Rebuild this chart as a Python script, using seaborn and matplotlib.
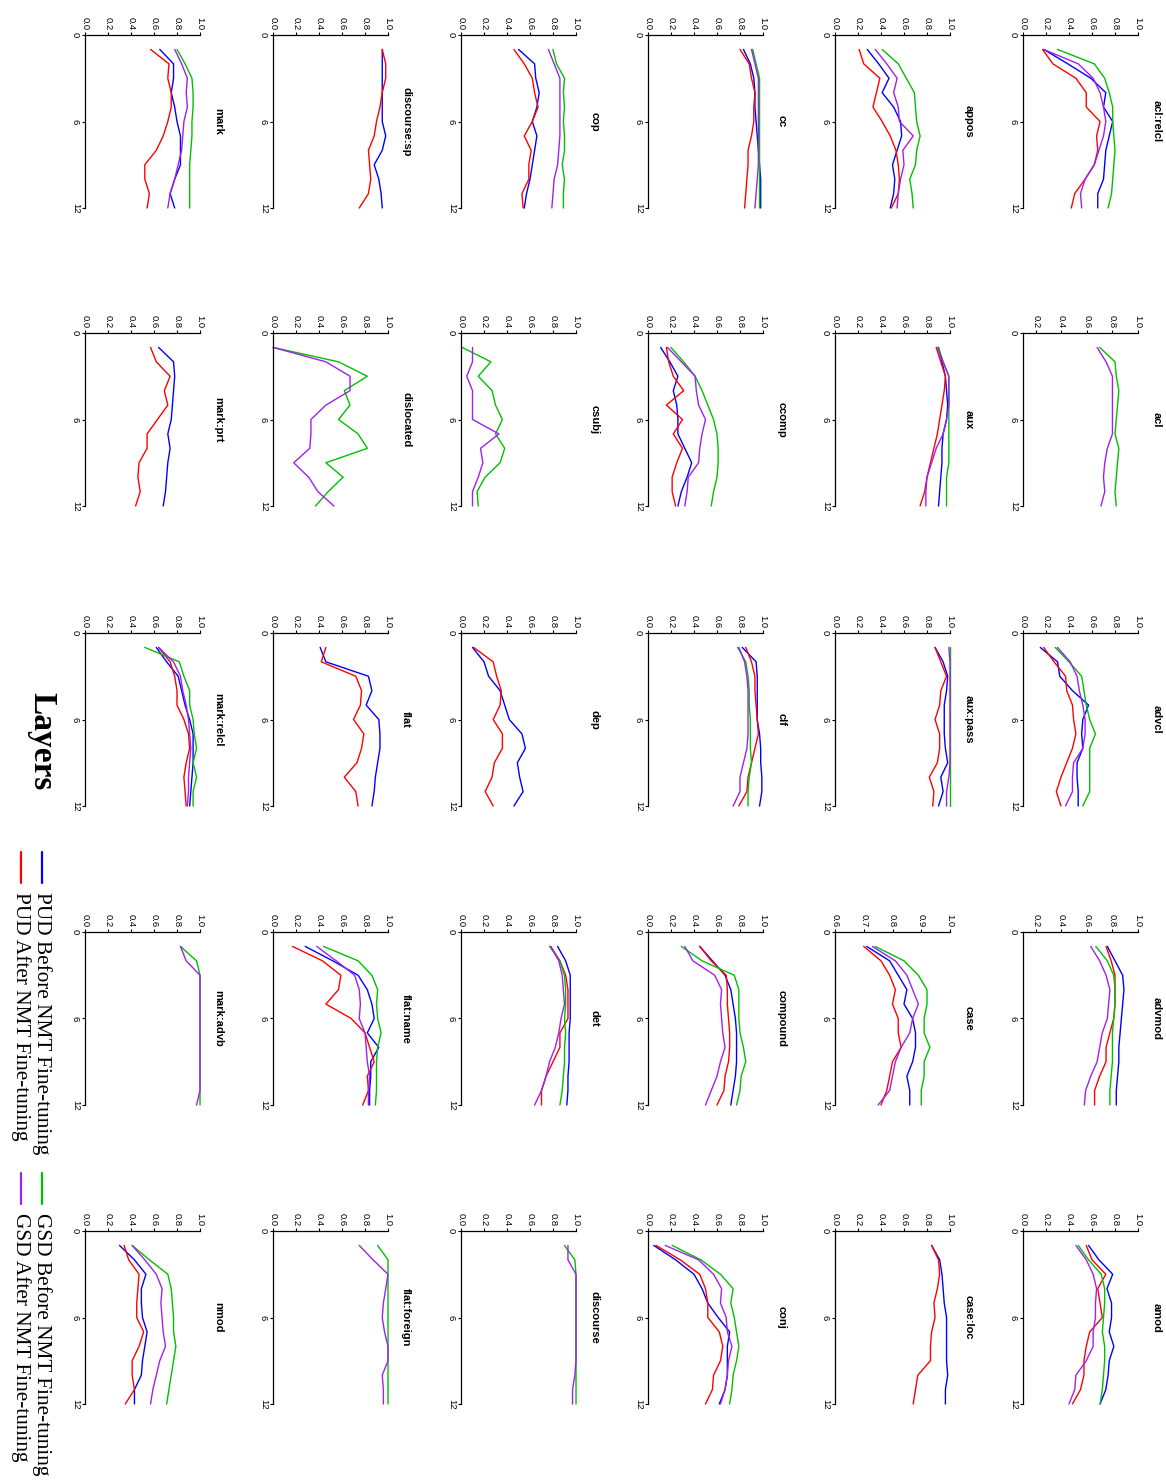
import matplotlib
matplotlib.use("Agg")
import matplotlib.pyplot as plt
from matplotlib.lines import Line2D
import pandas as pd
import seaborn as sns

# ---------------- data ----------------
LAYERS = [1, 2, 3, 4, 5, 6, 7, 8, 9, 10, 11, 12]
SERIES = ["PUD Before NMT Fine-tuning", "PUD After NMT Fine-tuning",
          "GSD Before NMT Fine-tuning", "GSD After NMT Fine-tuning"]
COLORS = ["#0000FF", "#FF0000", "#00C000", "#A020F0"]

PANEL_TITLES = [
    "acl:relcl", "acl", "advcl", "advmod", "amod",
    "appos", "aux", "aux:pass", "case", "case:loc",
    "cc", "ccomp", "clf", "compound", "conj",
    "cop", "csubj", "dep", "det", "discourse",
    "discourse:sp", "dislocated", "flat", "flat:name", "flat:foreign",
    "mark", "mark:prt", "mark:relcl", "mark:advb", "nmod",
]
VALUE_FLOOR = {"acl": 0.1, "advmod": 0.1, "case": 0.6}

acl_relcl_pud_before = [0.18, 0.39, 0.59, 0.72, 0.70, 0.78, 0.75, 0.72, 0.71, 0.70, 0.65, 0.65]
acl_relcl_pud_after = [0.17, 0.26, 0.46, 0.55, 0.55, 0.67, 0.64, 0.65, 0.62, 0.54, 0.45, 0.42]
acl_relcl_gsd_before = [0.30, 0.62, 0.71, 0.75, 0.78, 0.78, 0.79, 0.80, 0.79, 0.78, 0.77, 0.74]
acl_relcl_gsd_after = [0.18, 0.48, 0.61, 0.67, 0.70, 0.72, 0.70, 0.66, 0.62, 0.54, 0.50, 0.51]

acl_gsd_before = [0.70, 0.82, 0.83, 0.85, 0.84, 0.83, 0.82, 0.85, 0.84, 0.83, 0.82, 0.83]
acl_gsd_after = [0.68, 0.75, 0.80, 0.80, 0.80, 0.80, 0.80, 0.76, 0.74, 0.73, 0.74, 0.71]

advcl_pud_before = [0.15, 0.30, 0.32, 0.43, 0.57, 0.52, 0.51, 0.52, 0.47, 0.47, 0.48, 0.48]
advcl_pud_after = [0.18, 0.27, 0.37, 0.38, 0.43, 0.44, 0.46, 0.43, 0.38, 0.33, 0.29, 0.33]
advcl_gsd_before = [0.28, 0.40, 0.51, 0.53, 0.55, 0.58, 0.63, 0.58, 0.58, 0.58, 0.58, 0.52]
advcl_gsd_after = [0.30, 0.41, 0.47, 0.49, 0.52, 0.54, 0.54, 0.52, 0.44, 0.43, 0.43, 0.37]

advmod_pud_before = [0.76, 0.82, 0.88, 0.89, 0.88, 0.87, 0.86, 0.85, 0.85, 0.84, 0.83, 0.83]
advmod_pud_after = [0.75, 0.79, 0.82, 0.82, 0.82, 0.81, 0.78, 0.75, 0.75, 0.70, 0.66, 0.66]
advmod_gsd_before = [0.67, 0.76, 0.81, 0.82, 0.82, 0.81, 0.80, 0.80, 0.80, 0.79, 0.78, 0.78]
advmod_gsd_after = [0.63, 0.70, 0.75, 0.78, 0.77, 0.76, 0.72, 0.70, 0.68, 0.63, 0.59, 0.58]

amod_pud_before = [0.57, 0.66, 0.78, 0.73, 0.77, 0.77, 0.75, 0.79, 0.75, 0.74, 0.72, 0.67]
amod_pud_after = [0.55, 0.60, 0.72, 0.65, 0.67, 0.69, 0.58, 0.55, 0.53, 0.53, 0.50, 0.43]
amod_gsd_before = [0.48, 0.57, 0.68, 0.71, 0.71, 0.70, 0.69, 0.71, 0.71, 0.70, 0.69, 0.67]
amod_gsd_after = [0.46, 0.55, 0.61, 0.64, 0.63, 0.63, 0.61, 0.61, 0.55, 0.46, 0.45, 0.40]

appos_pud_before = [0.28, 0.38, 0.47, 0.41, 0.51, 0.57, 0.58, 0.54, 0.50, 0.52, 0.51, 0.48]
appos_pud_after = [0.21, 0.25, 0.39, 0.36, 0.33, 0.41, 0.48, 0.53, 0.55, 0.56, 0.55, 0.49]
appos_gsd_before = [0.41, 0.55, 0.62, 0.69, 0.70, 0.71, 0.74, 0.71, 0.70, 0.65, 0.67, 0.68]
appos_gsd_after = [0.35, 0.45, 0.54, 0.51, 0.55, 0.56, 0.68, 0.59, 0.60, 0.57, 0.55, 0.54]

aux_pud_before = [0.90, 0.93, 0.96, 0.97, 0.98, 0.97, 0.94, 0.93, 0.93, 0.92, 0.91, 0.90]
aux_pud_after = [0.88, 0.92, 0.96, 0.95, 0.93, 0.91, 0.89, 0.86, 0.83, 0.80, 0.78, 0.74]
aux_gsd_before = [0.90, 0.94, 0.99, 0.99, 0.99, 0.99, 0.99, 0.99, 0.99, 0.97, 0.97, 0.97]
aux_gsd_after = [0.89, 0.94, 0.99, 0.99, 0.99, 0.97, 0.94, 0.88, 0.84, 0.80, 0.79, 0.79]

aux_pass_pud_before = [0.87, 0.94, 0.98, 0.97, 0.95, 0.95, 0.95, 0.96, 0.98, 0.92, 0.94, 0.90]
aux_pass_pud_after = [0.87, 0.92, 0.97, 0.92, 0.91, 0.87, 0.91, 0.91, 0.89, 0.82, 0.86, 0.85]
aux_pass_gsd_before = [1.00, 1.00, 1.00, 1.00, 1.00, 1.00, 1.00, 1.00, 1.00, 1.00, 1.00, 1.00]
aux_pass_gsd_after = [0.99, 1.00, 1.00, 1.00, 1.00, 1.00, 1.00, 1.00, 1.00, 0.99, 0.97, 0.97]

case_pud_before = [0.71, 0.79, 0.82, 0.85, 0.84, 0.87, 0.88, 0.88, 0.87, 0.85, 0.86, 0.86]
case_pud_after = [0.70, 0.76, 0.79, 0.81, 0.80, 0.82, 0.82, 0.83, 0.80, 0.79, 0.78, 0.76]
case_gsd_before = [0.74, 0.84, 0.89, 0.92, 0.92, 0.91, 0.91, 0.93, 0.91, 0.91, 0.90, 0.90]
case_gsd_after = [0.73, 0.81, 0.85, 0.87, 0.89, 0.87, 0.86, 0.83, 0.81, 0.80, 0.79, 0.75]

case_loc_pud_before = [0.84, 0.91, 0.93, 0.94, 0.95, 0.97, 0.97, 0.97, 0.97, 0.98, 0.96, 0.96]
case_loc_pud_after = [0.84, 0.90, 0.91, 0.89, 0.86, 0.87, 0.84, 0.83, 0.83, 0.72, 0.70, 0.68]

cc_pud_before = [0.83, 0.89, 0.92, 0.93, 0.93, 0.94, 0.95, 0.96, 0.97, 0.98, 0.98, 0.98]
cc_pud_after = [0.80, 0.88, 0.90, 0.93, 0.92, 0.92, 0.90, 0.87, 0.87, 0.86, 0.85, 0.84]
cc_gsd_before = [0.91, 0.94, 0.97, 0.97, 0.97, 0.97, 0.97, 0.97, 0.97, 0.97, 0.97, 0.97]
cc_gsd_after = [0.90, 0.93, 0.96, 0.96, 0.96, 0.96, 0.96, 0.96, 0.96, 0.95, 0.94, 0.93]

ccomp_pud_before = [0.11, 0.19, 0.26, 0.22, 0.25, 0.26, 0.26, 0.32, 0.38, 0.34, 0.29, 0.26]
ccomp_pud_after = [0.16, 0.18, 0.22, 0.31, 0.16, 0.30, 0.22, 0.30, 0.25, 0.21, 0.21, 0.24]
ccomp_gsd_before = [0.20, 0.31, 0.41, 0.47, 0.52, 0.57, 0.60, 0.61, 0.61, 0.60, 0.57, 0.55]
ccomp_gsd_after = [0.17, 0.29, 0.41, 0.42, 0.44, 0.50, 0.47, 0.45, 0.44, 0.35, 0.34, 0.32]

clf_pud_before = [0.82, 0.94, 0.95, 0.95, 0.95, 0.95, 0.97, 0.98, 0.98, 0.99, 0.99, 0.97]
clf_pud_after = [0.85, 0.90, 0.93, 0.93, 0.94, 0.95, 0.96, 0.93, 0.90, 0.87, 0.86, 0.79]
clf_gsd_before = [0.78, 0.85, 0.87, 0.88, 0.88, 0.89, 0.89, 0.89, 0.90, 0.88, 0.87, 0.87]
clf_gsd_after = [0.79, 0.84, 0.86, 0.87, 0.87, 0.87, 0.87, 0.86, 0.83, 0.80, 0.80, 0.74]

compound_pud_before = [0.45, 0.56, 0.67, 0.72, 0.74, 0.76, 0.77, 0.77, 0.77, 0.76, 0.74, 0.72]
compound_pud_after = [0.45, 0.55, 0.68, 0.69, 0.69, 0.70, 0.71, 0.71, 0.70, 0.67, 0.66, 0.60]
compound_gsd_before = [0.29, 0.47, 0.75, 0.79, 0.79, 0.79, 0.80, 0.83, 0.85, 0.81, 0.80, 0.77]
compound_gsd_after = [0.32, 0.39, 0.58, 0.64, 0.63, 0.64, 0.65, 0.67, 0.63, 0.60, 0.55, 0.50]

conj_pud_before = [0.05, 0.24, 0.40, 0.47, 0.52, 0.61, 0.71, 0.69, 0.69, 0.69, 0.67, 0.62]
conj_pud_after = [0.07, 0.28, 0.45, 0.50, 0.52, 0.52, 0.62, 0.65, 0.63, 0.57, 0.56, 0.50]
conj_gsd_before = [0.21, 0.46, 0.63, 0.74, 0.72, 0.75, 0.77, 0.79, 0.77, 0.74, 0.73, 0.71]
conj_gsd_after = [0.15, 0.44, 0.57, 0.64, 0.63, 0.68, 0.69, 0.73, 0.70, 0.69, 0.67, 0.63]

cop_pud_before = [0.50, 0.64, 0.65, 0.68, 0.66, 0.62, 0.66, 0.64, 0.62, 0.60, 0.57, 0.55]
cop_pud_after = [0.46, 0.55, 0.62, 0.64, 0.67, 0.62, 0.55, 0.61, 0.59, 0.59, 0.53, 0.54]
cop_gsd_before = [0.80, 0.83, 0.90, 0.89, 0.90, 0.89, 0.90, 0.90, 0.88, 0.90, 0.89, 0.89]
cop_gsd_after = [0.76, 0.81, 0.86, 0.86, 0.86, 0.86, 0.86, 0.85, 0.84, 0.81, 0.80, 0.79]

csubj_gsd_before = [0.01, 0.26, 0.15, 0.27, 0.30, 0.36, 0.30, 0.38, 0.34, 0.21, 0.14, 0.15]
csubj_gsd_after = [0.10, 0.10, 0.05, 0.10, 0.10, 0.10, 0.33, 0.17, 0.19, 0.15, 0.10, 0.10]

dep_pud_before = [0.10, 0.20, 0.24, 0.34, 0.38, 0.42, 0.53, 0.56, 0.49, 0.51, 0.54, 0.46]
dep_pud_after = [0.11, 0.28, 0.31, 0.35, 0.34, 0.28, 0.36, 0.36, 0.29, 0.27, 0.21, 0.28]

det_pud_before = [0.84, 0.91, 0.95, 0.95, 0.95, 0.95, 0.94, 0.94, 0.94, 0.93, 0.93, 0.92]
det_pud_after = [0.78, 0.86, 0.91, 0.93, 0.93, 0.93, 0.86, 0.86, 0.80, 0.74, 0.70, 0.70]
det_gsd_before = [0.77, 0.86, 0.90, 0.91, 0.91, 0.90, 0.91, 0.90, 0.90, 0.89, 0.88, 0.86]
det_gsd_after = [0.78, 0.85, 0.88, 0.89, 0.90, 0.87, 0.85, 0.82, 0.77, 0.74, 0.70, 0.64]

discourse_gsd_before = [0.90, 0.99, 1.00, 1.00, 1.00, 1.00, 1.00, 1.00, 1.00, 1.00, 1.00, 1.00]
discourse_gsd_after = [0.93, 0.93, 1.00, 1.00, 1.00, 1.00, 1.00, 1.00, 1.00, 0.99, 0.97, 0.97]

discourse_sp_pud_before = [0.95, 0.95, 0.95, 0.95, 0.95, 0.95, 0.98, 0.95, 0.88, 0.92, 0.94, 0.95]
discourse_sp_pud_after = [0.95, 0.98, 0.98, 0.95, 0.93, 0.90, 0.88, 0.83, 0.84, 0.85, 0.83, 0.75]

dislocated_gsd_before = [0.00, 0.57, 0.82, 0.62, 0.67, 0.57, 0.74, 0.82, 0.46, 0.61, 0.48, 0.37]
dislocated_gsd_after = [0.00, 0.46, 0.67, 0.67, 0.46, 0.33, 0.33, 0.32, 0.18, 0.31, 0.39, 0.53]

flat_pud_before = [0.41, 0.46, 0.83, 0.86, 0.81, 0.92, 0.93, 0.93, 0.91, 0.89, 0.88, 0.86]
flat_pud_after = [0.46, 0.42, 0.72, 0.77, 0.76, 0.70, 0.79, 0.77, 0.73, 0.62, 0.72, 0.74]

flat_name_pud_before = [0.28, 0.52, 0.74, 0.82, 0.86, 0.88, 0.82, 0.92, 0.85, 0.85, 0.84, 0.84]
flat_name_pud_after = [0.17, 0.43, 0.59, 0.57, 0.46, 0.68, 0.80, 0.84, 0.88, 0.82, 0.83, 0.78]
flat_name_gsd_before = [0.44, 0.74, 0.86, 0.91, 0.90, 0.91, 0.94, 0.91, 0.90, 0.90, 0.90, 0.89]
flat_name_gsd_after = [0.38, 0.55, 0.71, 0.75, 0.76, 0.75, 0.80, 0.81, 0.82, 0.84, 0.83, 0.83]

flat_foreign_gsd_before = [0.91, 1.00, 1.00, 1.00, 1.00, 1.00, 1.00, 1.00, 1.00, 1.00, 1.00, 1.00]
flat_foreign_gsd_after = [0.75, 0.87, 1.00, 0.98, 0.96, 0.95, 0.97, 1.00, 1.00, 0.95, 0.96, 0.96]

mark_pud_before = [0.65, 0.77, 0.77, 0.75, 0.78, 0.80, 0.83, 0.83, 0.83, 0.78, 0.74, 0.78]
mark_pud_after = [0.57, 0.73, 0.72, 0.75, 0.75, 0.72, 0.68, 0.62, 0.52, 0.52, 0.56, 0.54]
mark_gsd_before = [0.80, 0.87, 0.93, 0.94, 0.94, 0.93, 0.93, 0.92, 0.91, 0.91, 0.91, 0.91]
mark_gsd_after = [0.78, 0.84, 0.89, 0.88, 0.89, 0.86, 0.85, 0.84, 0.81, 0.78, 0.74, 0.72]

mark_prt_pud_before = [0.64, 0.77, 0.78, 0.77, 0.76, 0.75, 0.72, 0.74, 0.72, 0.71, 0.70, 0.68]
mark_prt_pud_after = [0.57, 0.62, 0.74, 0.69, 0.72, 0.63, 0.54, 0.54, 0.47, 0.46, 0.48, 0.44]

mark_relcl_pud_before = [0.62, 0.71, 0.81, 0.84, 0.87, 0.91, 0.94, 0.94, 0.94, 0.93, 0.92, 0.91]
mark_relcl_pud_after = [0.64, 0.74, 0.78, 0.80, 0.80, 0.86, 0.90, 0.91, 0.88, 0.86, 0.87, 0.88]
mark_relcl_gsd_before = [0.52, 0.82, 0.86, 0.91, 0.91, 0.94, 0.95, 0.97, 0.94, 0.97, 0.94, 0.94]
mark_relcl_gsd_after = [0.64, 0.77, 0.83, 0.85, 0.88, 0.90, 0.91, 0.92, 0.91, 0.90, 0.90, 0.89]

mark_advb_gsd_before = [0.83, 0.97, 1.00, 1.00, 1.00, 1.00, 1.00, 1.00, 1.00, 1.00, 1.00, 1.00]
mark_advb_gsd_after = [0.83, 0.88, 1.00, 1.00, 1.00, 1.00, 1.00, 1.00, 1.00, 1.00, 1.00, 0.97]

nmod_pud_before = [0.30, 0.43, 0.53, 0.49, 0.49, 0.50, 0.54, 0.52, 0.50, 0.49, 0.43, 0.43]
nmod_pud_after = [0.34, 0.38, 0.47, 0.46, 0.45, 0.45, 0.51, 0.47, 0.41, 0.41, 0.43, 0.35]
nmod_gsd_before = [0.41, 0.56, 0.72, 0.75, 0.76, 0.77, 0.77, 0.79, 0.77, 0.75, 0.73, 0.71]
nmod_gsd_after = [0.41, 0.52, 0.62, 0.67, 0.66, 0.67, 0.68, 0.70, 0.65, 0.62, 0.59, 0.57]

_g = globals()


def panel_series(title):
    key = title.replace(":", "_")
    return [_g.get(f"{key}_{s}") for s in
            ("pud_before", "pud_after", "gsd_before", "gsd_after")]


# ---------------- figure ----------------
sns.set_style("white")
plt.rcParams["font.family"] = ["Liberation Sans", "DejaVu Sans"]
plt.rcParams["text.color"] = "black"
plt.rcParams["axes.labelcolor"] = "black"
plt.rcParams["xtick.color"] = "black"
plt.rcParams["ytick.color"] = "black"

W, H = 1166, 1481
fig = plt.figure(figsize=(W / 100, H / 100), dpi=100)

ROW_LEFT = [1023, 835, 648, 461, 273, 85]     # px, original rows -> image columns
COL_TOP = [35, 333, 633, 932, 1231]           # px, original cols -> image rows
AX_W, AX_H = 115, 173

for i, title in enumerate(PANEL_TITLES):
    r, c = divmod(i, 5)
    left = ROW_LEFT[r] / W
    bottom = 1 - (COL_TOP[c] + AX_H) / H
    ax = fig.add_axes([left, bottom, AX_W / W, AX_H / H])

    rows = []
    for name, vals in zip(SERIES, panel_series(title)):
        if vals is None:
            continue
        for layer, v in zip(LAYERS, vals):
            rows.append({"layer": layer, "value": v, "series": name})
    df = pd.DataFrame(rows)
    present = [s for s in SERIES if s in set(df["series"])]
    sns.lineplot(data=df, x="value", y="layer", hue="series",
                 hue_order=present,
                 palette={s: col for s, col in zip(SERIES, COLORS)},
                 orient="y", estimator=None, sort=False, legend=False,
                 linewidth=1.0, ax=ax)
    for ln in ax.lines:
        ln.set_clip_on(False)

    lo = VALUE_FLOOR.get(title, 0.0)
    ax.set_xlim(lo, 1.0)
    ax.set_ylim(12, 0)
    if title == "case":
        xt = [0.6, 0.7, 0.8, 0.9, 1.0]
    elif lo > 0:
        xt = [0.2, 0.4, 0.6, 0.8, 1.0]
    else:
        xt = [0.0, 0.2, 0.4, 0.6, 0.8, 1.0]
    ax.set_xticks(xt)
    ax.set_xticklabels([f"{t:.1f}" for t in xt])
    ax.set_yticks([0, 6, 12])
    ax.set_yticklabels(["0", "6", "12"])
    ax.set_xlabel("")
    ax.set_ylabel("")

    for side in ("right", "bottom"):
        ax.spines[side].set_visible(False)
    for side in ("top", "left"):
        ax.spines[side].set_visible(True)
        ax.spines[side].set_color("black")
        ax.spines[side].set_linewidth(0.9)

    ax.xaxis.set_ticks_position("top")
    ax.tick_params(axis="x", top=True, bottom=False, labeltop=True,
                   labelbottom=False, direction="out", length=2.5, width=0.8,
                   pad=1.2, labelsize=6.8, labelrotation=-90, colors="black")
    ax.tick_params(axis="y", left=True, right=False, direction="out",
                   length=2.5, width=0.8, pad=1.2, labelsize=6.8,
                   labelrotation=-90, colors="black")
    for lbl in ax.get_yticklabels():
        lbl.set_va("center")

    ax.annotate(title, xy=(1, 0.5), xycoords="axes fraction",
                xytext=(9.5, 0), textcoords="offset points",
                rotation=-90, ha="left", va="center",
                fontsize=8, fontweight="bold", color="black")

# axis label
fig.text(42 / W, 1 - 741 / H, "Layers", rotation=-90, ha="center",
         va="center", fontsize=24, fontweight="bold", color="black",
         family=["Liberation Serif", "DejaVu Serif"])

# legend (rotated, drawn manually)
LEG_X = [42, 21, 42, 21]
LEG_Y = [852, 852, 1173, 1173]
for name, col, lx, ly in zip(SERIES, COLORS, LEG_X, LEG_Y):
    fig.add_artist(Line2D([lx / W, lx / W], [1 - ly / H, 1 - (ly + 31) / H],
                          color=col, linewidth=1.6,
                          transform=fig.transFigure))
    fig.text(lx / W, 1 - (ly + 40) / H, name, rotation=-90, ha="center",
             va="top", fontsize=15.3, color="black",
             family=["Liberation Serif", "DejaVu Serif"])

fig.savefig("out.png", dpi=100, facecolor="white")
